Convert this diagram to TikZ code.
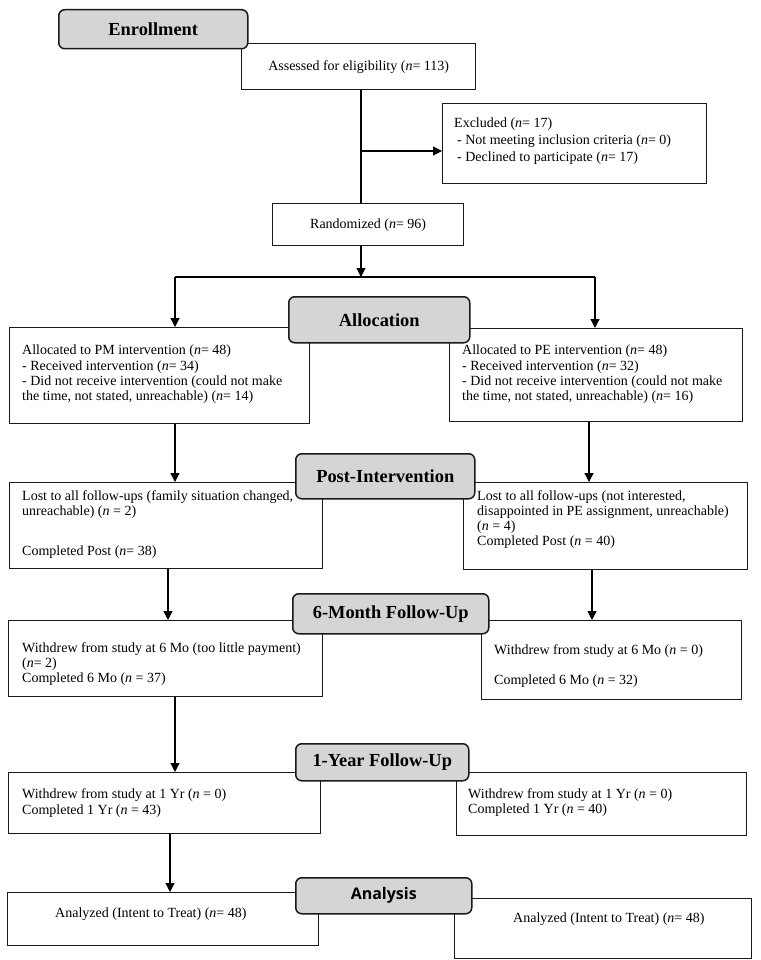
\documentclass[tikz,border=0pt]{standalone}
\usepackage{fontspec}
\setmainfont{Liberation Serif}
\newfontfamily\headsans{Open Sans}
\usetikzlibrary{arrows.meta}
\newcommand\myn{\textit{n}}
\begin{document}
\begin{tikzpicture}[x=1pt,y=-1pt,
  box/.style={draw=black!90, line width=1.3pt, inner sep=0pt, anchor=north west, font=\fontsize{14}{15.3}\selectfont},
  head/.style={draw=black!90, fill=gray!33, rounded corners=6pt, line width=1.5pt, inner sep=0pt, anchor=north west, font=\fontsize{18.4}{22}\selectfont\bfseries},
  txt/.style={anchor=north west, inner sep=0pt, align=left, font=\fontsize{14}{15.3}\selectfont},
  arr/.style={line width=1.3pt, -{Triangle[length=9pt,width=9pt]}},
  ln/.style={line width=1.3pt}]
\useasboundingbox (0,0) rectangle (760,960);
\fill[white] (0,0) rectangle (760,960);

% regular boxes
\node[box, minimum width=234pt, minimum height=46pt] (assess) at (241,43) {Assessed for eligibility (\myn= 113)};
\node[box, minimum width=264pt, minimum height=80pt] (excl) at (442,103) {};
\node[box, minimum width=191pt, minimum height=42pt] (rand) at (272,203) {Randomized (\myn= 96)};
\node[box, minimum width=300pt, minimum height=96pt] (pm) at (9,327) {};
\node[box, minimum width=293pt, minimum height=93pt] (pe) at (449,328) {};
\node[box, minimum width=313pt, minimum height=86pt] (lostL) at (9,482) {};
\node[box, minimum width=284pt, minimum height=87pt] (lostR) at (463,482) {};
\node[box, minimum width=314pt, minimum height=76pt] (sixL) at (8,620) {};
\node[box, minimum width=260pt, minimum height=79pt] (sixR) at (481,620) {};
\node[box, minimum width=312pt, minimum height=61pt] (oneL) at (8,772) {};
\node[box, minimum width=290pt, minimum height=63pt] (oneR) at (456,772) {};
\node[box, minimum width=311pt, minimum height=53pt] (anaL) at (7,892) {};
\node[box, minimum width=297pt, minimum height=60pt] (anaR) at (454,898) {};

% texts
\node[txt, font=\fontsize{14}{16.7}\selectfont] (exclT) at (454,118) {Excluded (\myn= 17)\\\hspace{3pt}- Not meeting inclusion criteria (\myn= 0)\\\hspace{3pt}- Declined to participate (\myn= 17)};
\node[txt] (pmT) at (22,345) {Allocated to PM intervention (\myn= 48)\\- Received intervention (\myn= 34)\\- Did not receive intervention (could not make\\the time, not stated, unreachable) (\myn= 14)};
\node[txt] (peT) at (462,345) {Allocated to PE intervention (\myn= 48)\\- Received intervention (\myn= 32)\\- Did not receive intervention (could not make\\the time, not stated, unreachable) (\myn= 16)};
\node[txt] (lostLT) at (22,490) {Lost to all follow-ups (family situation changed,\\unreachable) (\myn\ = 2)\\[24.4pt]Completed Post (\myn= 38)};
\node[txt, font=\fontsize{14}{15}\selectfont] (lostRT) at (477,490) {Lost to all follow-ups (not interested,\\disappointed in PE assignment, unreachable)\\(\myn\ = 4)\\Completed Post (\myn\ = 40)};
\node[txt, font=\fontsize{14}{15}\selectfont] (sixLT) at (22,642) {Withdrew from study at 6 Mo (too little payment)\\(\myn= 2)\\Completed 6 Mo (\myn\ = 37)};
\node[txt, font=\fontsize{14}{15}\selectfont] (sixRT) at (494,644) {Withdrew from study at 6 Mo (\myn\ = 0)\\[15pt]Completed 6 Mo (\myn\ = 32)};
\node[txt, font=\fontsize{14}{16}\selectfont] (oneLT) at (22,788) {Withdrew from study at 1 Yr (\myn\ = 0)\\Completed 1 Yr (\myn\ = 43)};
\node[txt, font=\fontsize{14}{15}\selectfont] (oneRT) at (468,788) {Withdrew from study at 1 Yr (\myn\ = 0)\\Completed 1 Yr (\myn\ = 40)};
\node[txt] (anaLT) at (55,908) {Analyzed (Intent to Treat) (\myn= 48)};
\node[txt] (anaRT) at (513,913) {Analyzed (Intent to Treat) (\myn= 48)};

% heading boxes
\node[head, minimum width=189pt, minimum height=39pt] (enroll) at (58,9) {};
\node[font=\fontsize{18.4}{22}\selectfont\bfseries] at (enroll.center) {Enrollment};
\node[head, minimum width=181pt, minimum height=46pt] (alloc) at (288,296) {};
\node[font=\fontsize{18.4}{22}\selectfont\bfseries] at (alloc.center) {Allocation};
\node[head, minimum width=179pt, minimum height=45pt] (post) at (295,453) {};
\node[font=\fontsize{18.4}{22}\selectfont\bfseries] at (post.center) {Post-Intervention};
\node[head, minimum width=196pt, minimum height=40pt] (sixm) at (292,593) {};
\node[font=\fontsize{18.4}{22}\selectfont\bfseries] at (sixm.center) {6-Month Follow-Up};
\node[head, minimum width=173pt, minimum height=37pt] (oney) at (295,743) {};
\node[font=\fontsize{18.4}{22}\selectfont\bfseries] at (oney.center) {1-Year Follow-Up};
\node[head, minimum width=176pt, minimum height=36pt] (ana) at (295,877) {};
\node[font=\fontsize{16}{20}\headsans\bfseries] at (ana.center) {Analysis};

% connector columns
\coordinate (cA) at (361,0);
\coordinate (cSplit) at (361,151);
\coordinate (cBar) at (361,277);
\coordinate (cL) at (175,277);
\coordinate (cR) at (595,277);
\coordinate (cL2) at (168,0);
\coordinate (cL3) at (170,0);
\coordinate (cR1) at (589,0);
\coordinate (cR2) at (592,0);

\draw[ln] (cA |- assess.south) -- (cA |- rand.north);
\draw[arr] (cSplit) -- (cSplit -| excl.west);
\draw[arr] (cA |- rand.south) -- (cBar);
\draw[ln] (cL) -- (cR);
\draw[arr] (cL) -- (cL |- pm.north);
\draw[arr] (cR) -- (cR |- pe.north);
\draw[arr] (cL |- pm.south) -- (cL |- lostL.north);
\draw[arr] (cR1 |- pe.south) -- (cR1 |- lostR.north);
\draw[arr] (cL2 |- lostL.south) -- (cL2 |- sixL.north);
\draw[arr] (cR2 |- lostR.south) -- (cR2 |- sixR.north);
\draw[arr] (cL |- sixL.south) -- (cL |- oneL.north);
\draw[arr] (cL3 |- oneL.south) -- (cL3 |- anaL.north);
\end{tikzpicture}
\end{document}
